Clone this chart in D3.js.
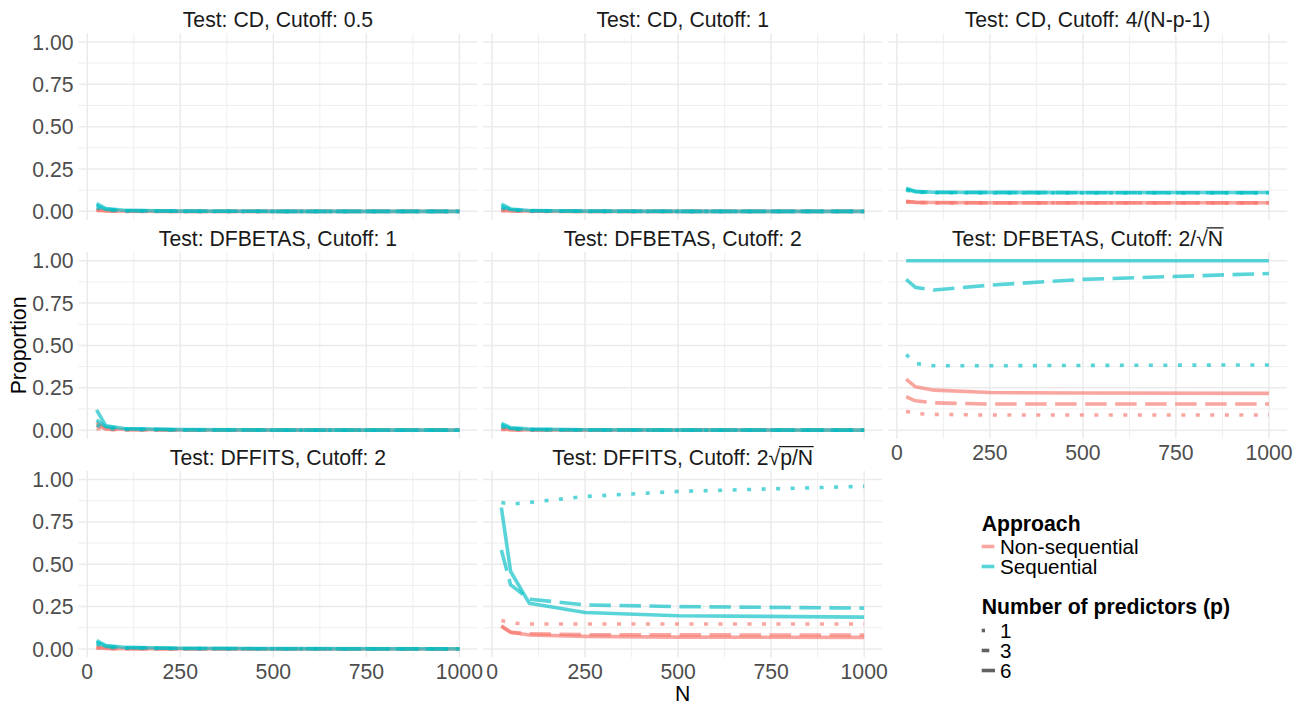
<!DOCTYPE html>
<html><head><meta charset="utf-8">
<script src="https://cdn.jsdelivr.net/npm/d3@7"></script>
<style>
body{margin:0;background:#fff;}
text{font-family:"Liberation Sans",Arial,sans-serif;}
</style></head>
<body><svg id="c" width="1302" height="703"></svg>
<script>
// ---------- data ----------
const Nvals = [25, 50, 100, 250, 500, 1000];
const predictors = ["1", "3", "6"];
const approaches = ["Non-sequential", "Sequential"];
const xTicks = [0, 250, 500, 750, 1000];
const yTicks = [0, 0.25, 0.5, 0.75, 1];
const panelTitles = [
  "Test: CD, Cutoff: 0.5", "Test: CD, Cutoff: 1", "Test: CD, Cutoff: 4/(N-p-1)",
  "Test: DFBETAS, Cutoff: 1", "Test: DFBETAS, Cutoff: 2", "Test: DFBETAS, Cutoff: 2/√N",
  "Test: DFFITS, Cutoff: 2", "Test: DFFITS, Cutoff: 2√p/N"
];
// each array: [p=1, p=3, p=6] over Nvals
const cd05Non = [[0.005,0.001,0,0,0,0],[0.008,0.002,0.001,0,0,0],[0.011,0.003,0.001,0,0,0]];
const cd05Seq = [[0.02,0.008,0.003,0,0,0],[0.035,0.012,0.004,0.001,0,0],[0.046,0.016,0.006,0.001,0,0]];
const cd1Non = [[0.004,0.001,0,0,0,0],[0.007,0.002,0.001,0,0,0],[0.01,0.003,0.001,0,0,0]];
const cd1Seq = [[0.018,0.007,0.003,0,0,0],[0.03,0.011,0.004,0.001,0,0],[0.042,0.014,0.005,0.001,0,0]];
const cd4Non = [[0.056,0.052,0.05,0.05,0.05,0.05],[0.058,0.053,0.051,0.05,0.05,0.05],[0.06,0.054,0.052,0.051,0.051,0.051]];
const cd4Seq = [[0.125,0.113,0.11,0.109,0.109,0.109],[0.13,0.116,0.112,0.111,0.11,0.11],[0.136,0.118,0.113,0.112,0.111,0.111]];
const dfb1Non = [[0.01,0.003,0.001,0,0,0],[0.03,0.006,0.002,0,0,0],[0.045,0.01,0.004,0.001,0,0]];
const dfb1Seq = [[0.03,0.01,0.004,0.001,0,0],[0.06,0.02,0.008,0.002,0,0],[0.12,0.025,0.01,0.003,0.001,0]];
const dfb2Non = [[0.004,0.001,0,0,0,0],[0.007,0.002,0.001,0,0,0],[0.01,0.003,0.001,0,0,0]];
const dfb2Seq = [[0.02,0.007,0.003,0,0,0],[0.03,0.01,0.004,0.001,0,0],[0.04,0.015,0.006,0.002,0.001,0]];
const dfbRNon = [[0.112,0.098,0.093,0.089,0.089,0.089],[0.197,0.173,0.161,0.154,0.154,0.154],[0.301,0.256,0.236,0.222,0.219,0.217]];
const dfbRSeq = [[0.447,0.394,0.38,0.38,0.382,0.385],[0.89,0.843,0.827,0.856,0.89,0.925],[1,1,1,1,1,1]];
const dff2Non = [[0.005,0.002,0.001,0,0,0],[0.009,0.003,0.001,0,0,0],[0.012,0.004,0.002,0.001,0,0]];
const dff2Seq = [[0.03,0.01,0.005,0.002,0.001,0],[0.04,0.015,0.008,0.003,0.001,0],[0.05,0.02,0.01,0.004,0.002,0.001]];
const dffRNon = [[0.168,0.153,0.147,0.147,0.147,0.147],[0.133,0.098,0.09,0.084,0.083,0.082],[0.137,0.098,0.082,0.074,0.07,0.068]];
const dffRSeq = [[0.865,0.855,0.865,0.9,0.93,0.96],[0.584,0.378,0.294,0.26,0.25,0.241],[0.835,0.457,0.27,0.215,0.196,0.188]];

const panelData = [
  [cd05Non, cd05Seq], [cd1Non, cd1Seq], [cd4Non, cd4Seq],
  [dfb1Non, dfb1Seq], [dfb2Non, dfb2Seq], [dfbRNon, dfbRSeq],
  [dff2Non, dff2Seq], [dffRNon, dffRSeq]
];

// ---------- layout ----------
const FS = 21.2;
const LFS = 20.6;
const colors = ["#F8766D", "#00BFC4"];
const dashes = {"1": "4,10.5", "3": "21.5,8.5", "6": null};
const LW = 3.6;
const panelW = 399.1, gapX = 5.7, left0 = 78.4;
const panelH = 186.3, top0 = 33.5, rowPitch = 218.8;

const svg = d3.select("#c");
const xDomain = [25 - 48.75, 1000 + 48.75];
const yDomain = [-0.05, 1.05];

panelData.forEach((pd, i) => {
  const col = i % 3, row = Math.floor(i / 3);
  const px = left0 + col * (panelW + gapX);
  const py = top0 + row * rowPitch;
  const x = d3.scaleLinear().domain(xDomain).range([px, px + panelW]);
  const y = d3.scaleLinear().domain(yDomain).range([py + panelH, py]);
  const g = svg.append("g");

  // minor grid
  const xMinor = [125, 375, 625, 875];
  const yMinor = [0.125, 0.375, 0.625, 0.875];
  g.selectAll(".xm").data(xMinor).join("line")
    .attr("x1", d => x(d)).attr("x2", d => x(d)).attr("y1", py).attr("y2", py + panelH)
    .attr("stroke", "#EBEBEB").attr("stroke-width", 0.8);
  g.selectAll(".ym").data(yMinor).join("line")
    .attr("y1", d => y(d)).attr("y2", d => y(d)).attr("x1", px).attr("x2", px + panelW)
    .attr("stroke", "#EBEBEB").attr("stroke-width", 0.8);
  // major grid
  g.selectAll(".xg").data(xTicks).join("line")
    .attr("x1", d => x(d)).attr("x2", d => x(d)).attr("y1", py).attr("y2", py + panelH)
    .attr("stroke", "#EBEBEB").attr("stroke-width", 1.5);
  g.selectAll(".yg").data(yTicks).join("line")
    .attr("y1", d => y(d)).attr("y2", d => y(d)).attr("x1", px).attr("x2", px + panelW)
    .attr("stroke", "#EBEBEB").attr("stroke-width", 1.5);

  // strip title
  const title = g.append("text")
    .attr("x", px + panelW / 2).attr("y", py - 6.2)
    .attr("text-anchor", "middle").attr("font-size", FS).attr("fill", "#1A1A1A")
    .text(panelTitles[i]);
  // radical overline
  const t = panelTitles[i];
  const ri = t.indexOf("√");
  if (ri >= 0) {
    const node = title.node();
    const sEnd = node.getEndPositionOfChar(ri);
    const last = node.getEndPositionOfChar(t.length - 1);
    const yb = py - 6.2;
    g.append("line")
      .attr("x1", sEnd.x - 1.2).attr("x2", last.x + 0.5)
      .attr("y1", yb - FS * 0.86).attr("y2", yb - FS * 0.86)
      .attr("stroke", "#1A1A1A").attr("stroke-width", 1.3);
  }

  // y tick labels (first column)
  if (col === 0) {
    g.selectAll(".yl").data(yTicks).join("text")
      .attr("x", 73.5).attr("y", d => y(d) + FS * 0.358)
      .attr("text-anchor", "end").attr("font-size", FS).attr("fill", "#4D4D4D")
      .text(d => d3.format(".2f")(d));
  }
  // x tick labels (bottom of each column)
  const isBottom = (row === 2) || (row === 1 && col === 2);
  if (isBottom) {
    g.selectAll(".xl").data(xTicks).join("text")
      .attr("x", d => x(d)).attr("y", py + panelH + 13.8 + FS * 0.358)
      .attr("text-anchor", "middle").attr("font-size", FS).attr("fill", "#4D4D4D")
      .text(d => d);
  }

  // lines
  const line = d3.line().x((d, k) => x(Nvals[k])).y(d => y(d));
  pd.forEach((appr, a) => {
    appr.forEach((vals, pIdx) => {
      const p = predictors[pIdx];
      g.append("path").datum(vals)
        .attr("d", line)
        .attr("fill", "none")
        .attr("stroke", colors[a])
        .attr("stroke-opacity", 0.65)
        .attr("stroke-width", LW)
        .attr("stroke-linejoin", "round")
        .attr("stroke-dasharray", dashes[p]);
    });
  });
});

// axis titles
const allLeft = left0, allRight = left0 + 3 * panelW + 2 * gapX;
svg.append("text").attr("x", (allLeft + allRight) / 2).attr("y", 700.5)
  .attr("text-anchor", "middle").attr("font-size", FS).attr("fill", "#000").text("N");
svg.append("text").attr("transform", `translate(25.5,${(top0 + top0 + 2 * rowPitch + panelH) / 2}) rotate(-90)`)
  .attr("text-anchor", "middle").attr("font-size", FS).attr("fill", "#000").text("Proportion");

// legend
const lg = svg.append("g");
const lx = 981.7;
lg.append("text").attr("x", lx).attr("y", 523 + FS * 0.358).attr("font-size", FS)
  .attr("font-weight", "bold").text("Approach");
approaches.forEach((a, k) => {
  const cy = 546.5 + k * 20;
  lg.append("line").attr("x1", lx).attr("x2", lx + 12.6).attr("y1", cy).attr("y2", cy)
    .attr("stroke", colors[k]).attr("stroke-opacity", 0.65).attr("stroke-width", LW);
  lg.append("text").attr("x", 1000).attr("y", cy + LFS * 0.358).attr("font-size", LFS).text(a);
});
lg.append("text").attr("x", lx).attr("y", 606 + FS * 0.358).attr("font-size", FS)
  .attr("font-weight", "bold").text("Number of predictors (p)");
const keyLen = {"1": 3.3, "3": 7.6, "6": 13.3};
predictors.forEach((p, k) => {
  const cy = 630.5 + k * 20;
  lg.append("line").attr("x1", lx).attr("x2", lx + keyLen[p]).attr("y1", cy).attr("y2", cy)
    .attr("stroke", "#000").attr("stroke-opacity", 0.62).attr("stroke-width", LW);
  lg.append("text").attr("x", 1000).attr("y", cy + LFS * 0.358).attr("font-size", LFS).text(p);
});
</script></body></html>
